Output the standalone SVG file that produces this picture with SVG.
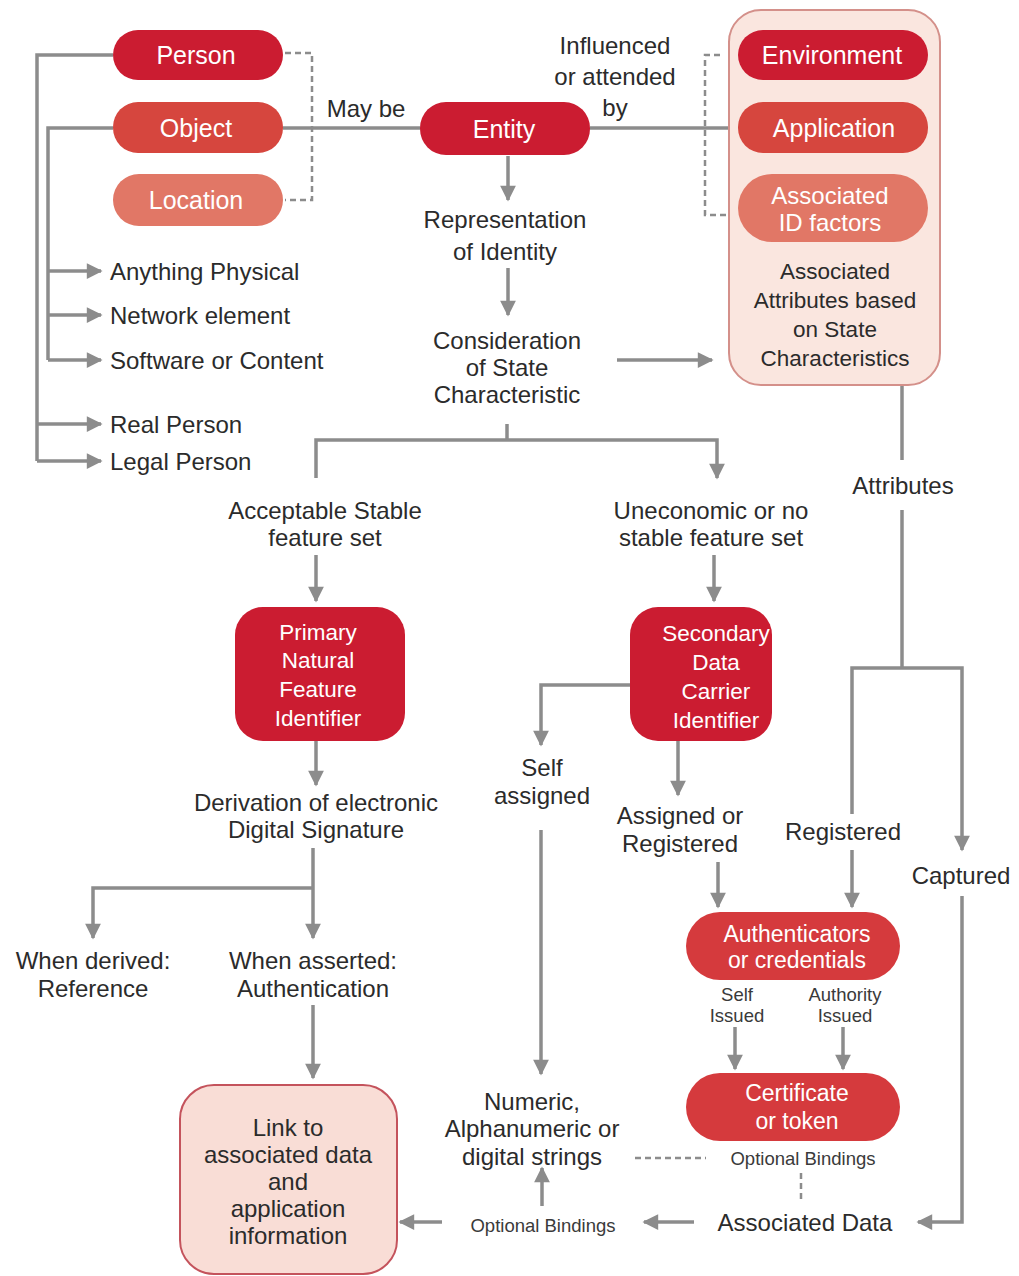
<svg xmlns="http://www.w3.org/2000/svg" width="1019" height="1276" viewBox="0 0 1019 1276">
<style>
  text { font-family: "Liberation Sans", Arial, sans-serif; dominant-baseline: central; text-anchor: middle; }
  .lbl { font-size: 24px; fill: #2b2b2b; }
  .lbl-l { font-size: 24px; fill: #2b2b2b; text-anchor: start; }
  .ctr { font-size: 22.5px; fill: #2b2b2b; }
  .sm { font-size: 18.5px; fill: #3a3a3a; }
  .w { font-size: 25px; fill: #ffffff; }
  .wi { font-size: 24px; fill: #ffffff; }
  .ws { font-size: 22.5px; fill: #ffffff; }
  .wa { font-size: 23px; fill: #ffffff; }
  .c { fill: none; stroke: #8c8c8c; stroke-width: 3.5; }
  .ca { fill: none; stroke: #8c8c8c; stroke-width: 3.5; marker-end: url(#ah); }
  .d { fill: none; stroke: #8c8c8c; stroke-width: 2.5; stroke-dasharray: 6 4; }
  .dk { fill: #cb1c31; }
  .md { fill: #d6463e; }
  .lt { fill: #e17766; }
  .cr { fill: #d53a3d; }
</style>
<defs>
  <marker id="ah" viewBox="0 0 10 10" refX="9" refY="5" markerWidth="5" markerHeight="4.5" orient="auto" markerUnits="strokeWidth">
    <path d="M0,0 L10,5 L0,10 Z" fill="#8c8c8c"/>
  </marker>
</defs>

<g id="connectors">
  <polyline class="c" points="113,55 37,55 37,461"/>
  <line class="ca" x1="37" y1="424" x2="101" y2="424"/>
  <line class="ca" x1="37" y1="461" x2="101" y2="461"/>
  <polyline class="c" points="113,128 48,128 48,360"/>
  <line class="ca" x1="48" y1="271" x2="101" y2="271"/>
  <line class="ca" x1="48" y1="315" x2="101" y2="315"/>
  <line class="ca" x1="48" y1="360" x2="101" y2="360"/>
  <line class="c" x1="283" y1="128" x2="420" y2="128"/>
  <line class="c" x1="590" y1="128" x2="738" y2="128"/>
  <polyline class="d" points="285,53 312,53 312,200 285,200"/>
  <polyline class="d" points="720,55 705,55 705,215 728,215"/>
  <line class="ca" x1="508" y1="156" x2="508" y2="200"/>
  <line class="ca" x1="508" y1="268" x2="508" y2="315"/>
  <line class="ca" x1="617" y1="360" x2="712" y2="360"/>
  <line class="c" x1="507" y1="424" x2="507" y2="440"/>
  <polyline class="ca" points="316,478 316,440 717,440 717,478"/>
  <line class="ca" x1="316" y1="555" x2="316" y2="601"/>
  <line class="ca" x1="714" y1="555" x2="714" y2="601"/>
  <line class="ca" x1="316" y1="741" x2="316" y2="785"/>
  <line class="ca" x1="313" y1="848" x2="313" y2="938"/>
  <polyline class="ca" points="313,888 93,888 93,938"/>
  <line class="ca" x1="313" y1="1005" x2="313" y2="1078"/>
  <polyline class="ca" points="630,685 541,685 541,745"/>
  <line class="ca" x1="678" y1="741" x2="678" y2="795"/>
  <line class="ca" x1="541" y1="830" x2="541" y2="1074"/>
  <line class="ca" x1="718" y1="862" x2="718" y2="907"/>
  <line class="c" x1="902" y1="386" x2="902" y2="460"/>
  <line class="c" x1="902" y1="510" x2="902" y2="668"/>
  <polyline class="ca" points="852,814 852,668 962,668 962,850"/>
  <line class="ca" x1="852" y1="850" x2="852" y2="907"/>
  <line class="ca" x1="735" y1="1027" x2="735" y2="1069"/>
  <line class="ca" x1="843" y1="1027" x2="843" y2="1069"/>
  <polyline class="ca" points="962,896 962,1222 918,1222"/>
  <line class="d" x1="635" y1="1158" x2="706" y2="1158"/>
  <line class="d" x1="801" y1="1173" x2="801" y2="1202"/>
  <line class="ca" x1="694" y1="1222" x2="644" y2="1222"/>
  <line class="ca" x1="542" y1="1206" x2="542" y2="1168"/>
  <line class="ca" x1="442" y1="1222" x2="400" y2="1222"/>
</g>

<g id="person"><rect class="dk" x="113" y="30" width="170" height="50" rx="25"/><text class="w" x="196" y="55">Person</text></g>
<g id="object"><rect class="md" x="113" y="102" width="170" height="51" rx="25"/><text class="w" x="196" y="128">Object</text></g>
<g id="location"><rect class="lt" x="113" y="174" width="170" height="52" rx="26"/><text class="w" x="196" y="200">Location</text></g>

<g id="may-be"><text class="lbl" x="366" y="108">May be</text></g>
<g id="entity"><rect class="dk" x="420" y="102" width="170" height="53" rx="26"/><text class="w" x="504" y="129">Entity</text></g>
<g id="influenced"><text class="lbl" x="615" y="45">Influenced</text><text class="lbl" x="615" y="76">or attended</text><text class="lbl" x="615" y="107">by</text></g>

<g id="attributes-container">
  <rect x="729" y="10" width="211" height="375" rx="32" fill="#fae6df" stroke="#d4908a" stroke-width="2"/>
  <text class="ctr" x="835" y="271">Associated</text>
  <text class="ctr" x="835" y="300">Attributes based</text>
  <text class="ctr" x="835" y="329">on State</text>
  <text class="ctr" x="835" y="358">Characteristics</text>
</g>
<g id="environment"><rect class="dk" x="738" y="30" width="190" height="50" rx="25"/><text class="w" x="832" y="55">Environment</text></g>
<g id="application"><rect class="md" x="738" y="102" width="190" height="51" rx="25"/><text class="w" x="834" y="128">Application</text></g>
<g id="associated-id"><rect class="lt" x="738" y="174" width="190" height="68" rx="34"/><text class="wi" x="830" y="195">Associated</text><text class="wi" x="830" y="222">ID factors</text></g>

<g id="anything-physical"><text class="lbl-l" x="110" y="271">Anything Physical</text></g>
<g id="network-element"><text class="lbl-l" x="110" y="315">Network element</text></g>
<g id="software"><text class="lbl-l" x="110" y="360">Software or Content</text></g>
<g id="real-person"><text class="lbl-l" x="110" y="424">Real Person</text></g>
<g id="legal-person"><text class="lbl-l" x="110" y="461">Legal Person</text></g>

<g id="representation"><text class="lbl" x="505" y="219">Representation</text><text class="lbl" x="505" y="251">of Identity</text></g>
<g id="consideration"><text class="lbl" x="507" y="340">Consideration</text><text class="lbl" x="507" y="367">of State</text><text class="lbl" x="507" y="394">Characteristic</text></g>

<g id="acceptable"><text class="lbl" x="325" y="510">Acceptable Stable</text><text class="lbl" x="325" y="537">feature set</text></g>
<g id="uneconomic"><text class="lbl" x="711" y="510">Uneconomic or no</text><text class="lbl" x="711" y="537">stable feature set</text></g>
<g id="attributes"><text class="lbl" x="903" y="485">Attributes</text></g>

<g id="primary"><rect class="dk" x="235" y="607" width="170" height="134" rx="28"/>
  <text class="ws" x="318" y="632">Primary</text><text class="ws" x="318" y="660">Natural</text><text class="ws" x="318" y="689">Feature</text><text class="ws" x="318" y="718">Identifier</text></g>
<g id="secondary"><rect class="dk" x="630" y="607" width="142" height="134" rx="28"/>
  <text class="ws" x="716" y="633">Secondary</text><text class="ws" x="716" y="662">Data</text><text class="ws" x="716" y="691">Carrier</text><text class="ws" x="716" y="720">Identifier</text></g>

<g id="derivation"><text class="lbl" x="316" y="802">Derivation of electronic</text><text class="lbl" x="316" y="829">Digital Signature</text></g>
<g id="self-assigned"><text class="lbl" x="542" y="767">Self</text><text class="lbl" x="542" y="795">assigned</text></g>
<g id="assigned-registered"><text class="lbl" x="680" y="815">Assigned or</text><text class="lbl" x="680" y="843">Registered</text></g>
<g id="registered"><text class="lbl" x="843" y="831">Registered</text></g>
<g id="captured"><text class="lbl" x="961" y="875">Captured</text></g>

<g id="when-derived"><text class="lbl" x="93" y="960">When derived:</text><text class="lbl" x="93" y="988">Reference</text></g>
<g id="when-asserted"><text class="lbl" x="313" y="960">When asserted:</text><text class="lbl" x="313" y="988">Authentication</text></g>

<g id="authenticators"><rect class="cr" x="686" y="912" width="214" height="68" rx="34"/>
  <text class="wa" x="797" y="934">Authenticators</text><text class="wa" x="797" y="960">or credentials</text></g>
<g id="self-issued"><text class="sm" x="737" y="994">Self</text><text class="sm" x="737" y="1015">Issued</text></g>
<g id="authority-issued"><text class="sm" x="845" y="994">Authority</text><text class="sm" x="845" y="1015">Issued</text></g>
<g id="certificate"><rect class="cr" x="686" y="1073" width="214" height="68" rx="34"/>
  <text class="wa" x="797" y="1093">Certificate</text><text class="wa" x="797" y="1121">or token</text></g>

<g id="numeric"><text class="lbl" x="532" y="1101">Numeric,</text><text class="lbl" x="532" y="1128">Alphanumeric or</text><text class="lbl" x="532" y="1156">digital strings</text></g>
<g id="optional-bindings-1"><text class="sm" x="803" y="1158">Optional Bindings</text></g>
<g id="associated-data"><text class="lbl" x="805" y="1222">Associated Data</text></g>
<g id="optional-bindings-2"><text class="sm" x="543" y="1225">Optional Bindings</text></g>

<g id="link"><rect x="180" y="1085" width="217" height="189" rx="34" fill="#f9ddd6" stroke="#c4535c" stroke-width="2"/>
  <text class="lbl" x="288" y="1127">Link to</text><text class="lbl" x="288" y="1154">associated data</text><text class="lbl" x="288" y="1181">and</text><text class="lbl" x="288" y="1208">application</text><text class="lbl" x="288" y="1235">information</text></g>
</svg>
